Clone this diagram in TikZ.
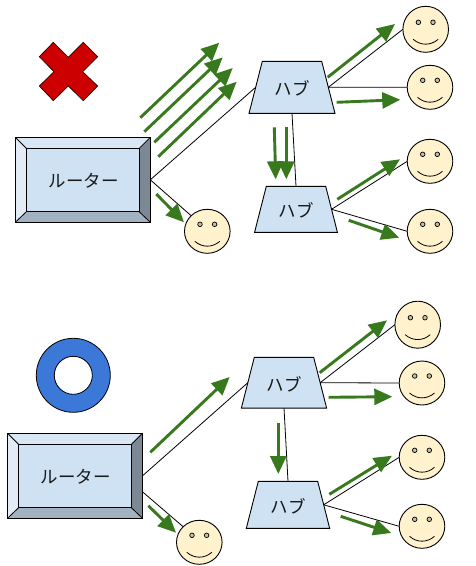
\documentclass[tikz,border=0pt]{standalone}
\usepackage{fontspec}
\setmainfont{Noto Sans CJK JP}
\usetikzlibrary{shapes.geometric,arrows.meta}
\definecolor{flowgreen}{HTML}{38791D}
\definecolor{hubblue}{HTML}{CFE2F3}
\definecolor{facecream}{HTML}{FFF2CC}
\definecolor{eyetan}{HTML}{C9BFA5}
\definecolor{crossred}{HTML}{CC0000}
\definecolor{ringblue}{HTML}{3C78D8}
\definecolor{bevtop}{HTML}{D9E6F4}
\definecolor{bevleft}{HTML}{E2EBF6}
\definecolor{bevright}{HTML}{7C8894}
\definecolor{bevbottom}{HTML}{A2B2C1}
\tikzset{
  x=1pt,y=-1pt,
  label text/.style={font=\fontsize{17.5}{20}\selectfont,text=black!90},
  routerbox/.style={draw=none,text width=135pt,align=center,text height=50.5pt,text depth=34.5pt,inner sep=0pt,outer sep=0pt,label text},
  hubbox/.style={trapezium,trapezium left angle=75.7,trapezium right angle=75.7,
    draw=black,line width=0.9pt,fill=hubblue,text width=59.4pt,align=center,
    text height=#1/2+8.5pt,text depth=#1/2-8.5pt,inner sep=0pt,outer sep=0pt,label text},
  facebox/.style={ellipse,draw=black,line width=0.9pt,fill=facecream,minimum width=45.6pt,minimum height=#1,inner sep=0pt,outer sep=0pt},
  wire/.style={draw=black,line width=0.8pt},
  flow/.style={draw=flowgreen,line width=2.9pt,-{Triangle[length=18pt,width=16pt,fill=flowgreen]}},
  bevelline/.style={draw=black,line width=0.8pt},
}
% facial features, drawn inside a named ellipse
\newcommand{\facefeatures}[1]{%
  \begin{scope}[shift={(#1.center)}]
    \draw[line width=0.7pt,fill=eyetan] (-7.3,-7) circle[radius=2.3];
    \draw[line width=0.7pt,fill=eyetan] (7.3,-7) circle[radius=2.3];
    \draw[line width=0.8pt] (-12.5,10) .. controls (-5,16.5) and (5,16.5) .. (12.5,10);
  \end{scope}}
% bevelled router box drawn round a named centre
\newcommand{\routerbevel}[2]{%
  \begin{scope}[shift={(#2)}]
    \fill[bevtop] (-67.5,-42.5) -- (67.5,-42.5) -- (56.5,-31.5) -- (-56.5,-31.5) -- cycle;
    \fill[bevleft] (-67.5,-42.5) -- (-56.5,-31.5) -- (-56.5,32) -- (-67.5,42.5) -- cycle;
    \fill[bevright] (67.5,-42.5) -- (56.5,-31.5) -- (56.5,32) -- (67.5,42.5) -- cycle;
    \fill[bevbottom] (-67.5,42.5) -- (-56.5,32) -- (56.5,32) -- (67.5,42.5) -- cycle;
    \draw[bevelline,fill=hubblue] (-56.5,-31.5) rectangle (56.5,32);
    \draw[bevelline] (-67.5,-42.5) -- (-56.5,-31.5) (67.5,-42.5) -- (56.5,-31.5)
      (-67.5,42.5) -- (-56.5,32) (67.5,42.5) -- (56.5,32);
    \draw[draw=black,line width=1.1pt] (-67.5,-42.5) rectangle (67.5,42.5);
  \end{scope}}
% free-standing flow arrow between two named coordinates
\newcommand{\flowarrow}[3]{%
  \coordinate (#1s) at (#2);
  \coordinate (#1e) at (#3);
  \draw[flow] (#1s) -- (#1e);}
\begin{document}
\begin{tikzpicture}
\useasboundingbox (0,0) rectangle (476,566);
% cross
\draw[line width=0.6pt,fill=crossred] (53.3,42.3) -- (68.3,57.3) -- (83.3,42.3) -- (97.7,56.7) -- (82.7,71.7)
  -- (97.7,86) -- (83.3,100.7) -- (68.3,86) -- (53.3,100.7) -- (39.3,86) -- (54,71.7) -- (39.3,56.7) -- cycle;
% ring
\draw[line width=0.8pt,fill=ringblue,even odd rule] (73.3,375.3) circle[radius=37] (73.3,375.3) circle[radius=19];

% === upper network ===
\routerbevel{ra}{82.8,179.8}
\node[routerbox] (ra) at (82.8,179.8) {\hspace*{1.5pt}ルーター};
\node[hubbox=52pt] (ha1) at (292,87.3) {ハブ};
\node[hubbox=46pt] (ha2) at (296,209.3) {ハブ};
\node[facebox=44pt] (fa0) at (207.3,231.3) {}; \facefeatures{fa0}
\node[facebox=46pt] (fa1) at (425.7,29.3) {}; \facefeatures{fa1}
\node[facebox=44pt] (fa2) at (430,87.3) {}; \facefeatures{fa2}
\node[facebox=44pt] (fa3) at (430,161.3) {}; \facefeatures{fa3}
\node[facebox=44pt] (fa4) at (430,231.3) {}; \facefeatures{fa4}
\draw[wire] (ra.east) -- (ha1.west);
\draw[wire] (ra.east) -- (fa0.north west);
\draw[wire] (ha1.east) -- (fa1.west);
\draw[wire] (ha1.east) -- (fa2.west);
\draw[wire] (ha1.south) -- (ha2.north);
\draw[wire] (ha2.east) -- (fa3.west);
\draw[wire] (ha2.east) -- (fa4.west);
\flowarrow{a1}{140.3,117.7}{219.3,42.7}
\flowarrow{a2}{144.3,131.7}{222.7,57.3}
\flowarrow{a3}{154.3,142.3}{232.7,68}
\flowarrow{a4}{158.3,156.7}{236.7,81.7}
\flowarrow{a5}{156.3,194}{184,222.3}
\flowarrow{b1}{327.7,77.3}{395,24}
\flowarrow{b2}{336.7,102.3}{400.3,99.7}
\flowarrow{b3}{274.3,127.3}{275.7,179.3}
\flowarrow{b4}{286.3,127.3}{286.3,179.3}
\flowarrow{b5}{337.3,199.3}{400,159.3}
\flowarrow{b6}{348.7,220.3}{399.3,237.7}

% === lower network ===
\routerbevel{rb}{75,475.8}
\node[routerbox] (rb) at (75,475.8) {\hspace*{1.5pt}ルーター};
\node[hubbox=50.7pt] (hb1) at (284,382.7) {ハブ};
\node[hubbox=47pt] (hb2) at (288,504.8) {ハブ};
\node[facebox=44pt] (fb0) at (199.3,542.3) {}; \facefeatures{fb0}
\node[facebox=47pt] (fb1) at (417.7,324.7) {}; \facefeatures{fb1}
\node[facebox=44pt] (fb2) at (422,383) {}; \facefeatures{fb2}
\node[facebox=44pt] (fb3) at (422,457.3) {}; \facefeatures{fb3}
\node[facebox=44pt] (fb4) at (422,526.3) {}; \facefeatures{fb4}
\draw[wire] (rb.east) -- (hb1.west);
\draw[wire] ([yshift=-16pt]rb.east) -- (fb0.north west);
\draw[wire] (hb1.east) -- (fb1.west);
\draw[wire] (hb1.east) -- (fb2.west);
\draw[wire] (hb1.south) -- (hb2.north);
\draw[wire] (hb2.east) -- (fb3.west);
\draw[wire] (hb2.east) -- (fb4.west);
\flowarrow{c1}{150.3,452.3}{229.7,377}
\flowarrow{c2}{148.3,505.7}{176,532.7}
\flowarrow{d1}{319.7,372.7}{387,320.3}
\flowarrow{d2}{328.7,397.3}{392.3,396.7}
\flowarrow{d3}{278.3,423.3}{278.3,474}
\flowarrow{d4}{329.3,494.3}{392,455.7}
\flowarrow{d5}{340.7,516.3}{391.3,533}
\end{tikzpicture}
\end{document}
